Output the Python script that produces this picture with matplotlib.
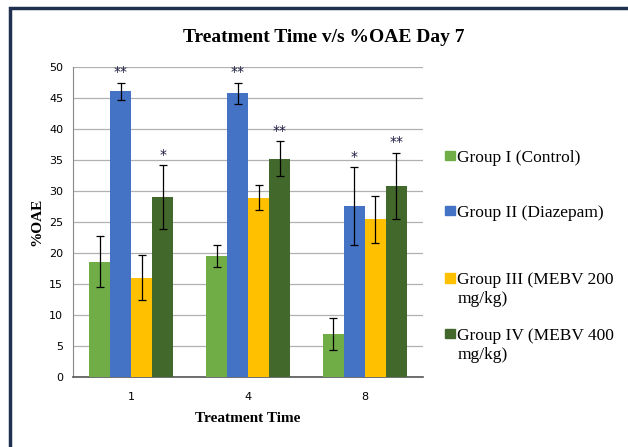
"""Treatment time vs %OAE, day 7, grouped bar chart."""

import numpy as np
from matplotlib import pyplot as plt
from matplotlib.patches import Rectangle

times = ['1', '4', '8']
groups = ['Group I (Control)', 'Group II (Diazepam)',
          'Group III (MEBV 200\nmg/kg)', 'Group IV (MEBV 400\nmg/kg)']
colors = ['#70AD47', '#4472C4', '#FFC000', '#43682B']

means = [
    [18.6, 19.5, 6.9],
    [46.1, 45.8, 27.6],
    [16.0, 28.9, 25.4],
    [29.0, 35.2, 30.8],
]
errors = [
    [4.1, 1.8, 2.6],
    [1.4, 1.7, 6.3],
    [3.6, 2.0, 3.8],
    [5.2, 2.8, 5.4],
]
stars = [
    ['', '', ''],
    ['**', '**', '*'],
    ['', '', ''],
    ['*', '**', '**'],
]

serif = 'Liberation Serif'

fig = plt.figure(figsize=(6.28, 4.47), dpi=100)
ax = fig.add_axes([0.116, 0.157, 0.558, 0.693])

x = np.arange(len(times))
width = 0.18
for i, name in enumerate(groups):
    pos = x + (i - 1.5) * width
    ax.bar(pos, means[i], width, color=colors[i], yerr=errors[i],
           capsize=3, error_kw={'elinewidth': 0.9, 'capthick': 0.9, 'ecolor': 'black'},
           zorder=3)
    for p, m, e, s in zip(pos, means[i], errors[i], stars[i]):
        if s:
            ax.text(p, m + e + 0.5, s, ha='center', va='bottom', fontsize=10,
                    color='#1a1a40', zorder=4)

ax.set_xlim(-0.5, 2.5)
ax.set_ylim(0, 50)
ax.set_yticks(range(0, 51, 5))
ax.set_xticks(x)
ax.set_xticklabels(times)
ax.tick_params(axis='both', length=0, labelsize=8)
ax.tick_params(axis='y', pad=7)
ax.tick_params(axis='x', pad=11)
ax.yaxis.grid(True, color='#b0b0b0', linewidth=0.9, zorder=0)
for side in ['top', 'right']:
    ax.spines[side].set_visible(False)
ax.spines['left'].set_color('#888888')
ax.spines['bottom'].set_color('#555555')
ax.spines['bottom'].set_linewidth(1.2)

ax.set_xlabel('Treatment Time', fontfamily=serif, fontweight='bold', fontsize=11, labelpad=7)
ax.set_ylabel('%OAE', fontfamily=serif, fontweight='bold', fontsize=11, labelpad=4)
fig.text(0.515, 0.915, 'Treatment Time v/s %OAE Day 7', ha='center', va='center',
         fontfamily=serif, fontweight='bold', fontsize=14)

# legend drawn by hand to copy the uneven spacing of the original
legend_y = [0.653, 0.530, 0.380, 0.255]
for y, name, c in zip(legend_y, groups, colors):
    fig.patches.append(Rectangle((0.709, y - 0.012), 0.015, 0.022, color=c,
                                 transform=fig.transFigure, figure=fig))
    fig.text(0.728, y + 0.012, name, ha='left', va='top', fontfamily=serif,
             fontsize=12.5, linespacing=1.25)

# dark frame around the chart, running off the right and bottom edges
fig.patches.append(Rectangle((0.016, -0.05), 1.1, 1.032, fill=False,
                             edgecolor='#1F3050', linewidth=2.5,
                             transform=fig.transFigure, figure=fig))

fig.savefig('out.png', dpi=100)
